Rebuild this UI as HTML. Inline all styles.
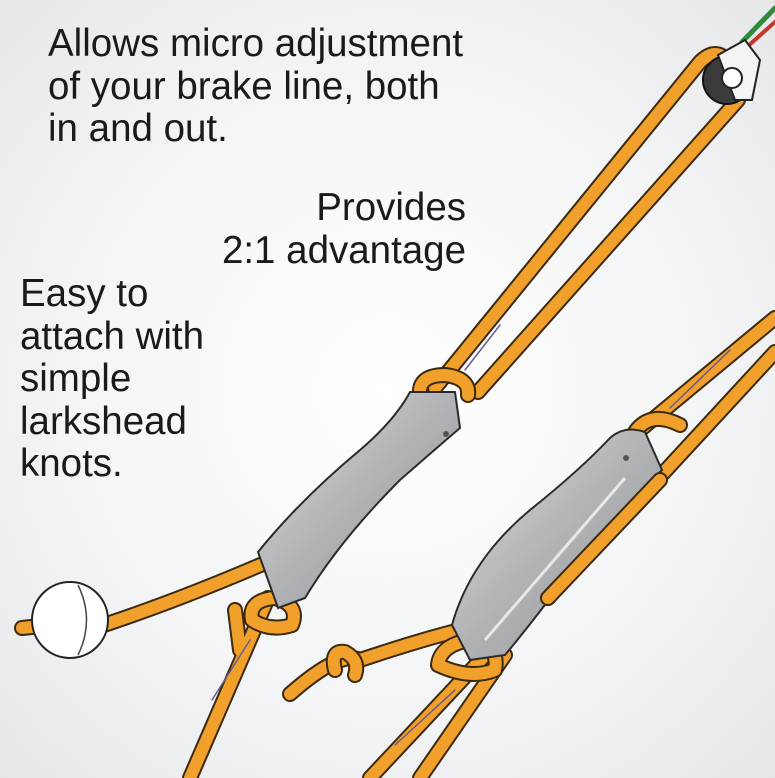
<!DOCTYPE html>
<html><head><style>
body{margin:0;width:775px;height:778px;overflow:hidden;background:radial-gradient(ellipse at 50% 50%,#ffffff 0%,#f3f4f5 60%,#e6e7e9 100%);font-family:"Liberation Sans",sans-serif;}
.t{position:absolute;font-size:38.5px;line-height:42.5px;color:#1a1a1a;}
svg{position:absolute;left:0;top:0}
</style></head><body>
<svg width="775" height="778" viewBox="0 0 775 778">
<defs>
<linearGradient id="g1" x1="0" y1="0" x2="1" y2="1"><stop offset="0" stop-color="#dcdddf"/><stop offset="0.5" stop-color="#b0b2b5"/><stop offset="1" stop-color="#8e9093"/></linearGradient>
</defs>
<g fill="none" stroke-linecap="round" stroke-linejoin="round">
<path d="M742,42 L775,8" stroke="#2f8a3c" stroke-width="5"/>
<path d="M748,46 L775,22" stroke="#c8352c" stroke-width="4"/>
<g stroke="#3a2a10" stroke-width="16">
<path d="M435,388 L700,62 Q712,50 722,56"/>
<path d="M478,392 L738,100"/>
<path d="M268,598 L190,778"/>
<path d="M235,610 L240,650"/>
<path d="M95,628 Q180,600 272,560"/>
<path d="M22,628 L50,625"/>
<path d="M640,430 L775,318"/>
<path d="M548,598 L775,352"/>
<path d="M490,650 L370,778"/>
<path d="M505,655 L420,778"/>
<path d="M290,694 Q340,650 360,660 Q420,640 460,630"/>
</g>
<g stroke="#f2a02c" stroke-width="12">
<path d="M435,388 L700,62 Q712,50 722,56"/>
<path d="M478,392 L738,100"/>
<path d="M268,598 L190,778"/>
<path d="M235,610 L240,650"/>
<path d="M95,628 Q180,600 272,560"/>
<path d="M22,628 L50,625"/>
<path d="M640,430 L775,318"/>
<path d="M548,598 L775,352"/>
<path d="M490,650 L370,778"/>
<path d="M505,655 L420,778"/>
<path d="M290,694 Q340,650 360,660 Q420,640 460,630"/>
</g>
<g stroke="#6a5a8a" stroke-width="1.5">
<path d="M465,370 L500,325"/><path d="M212,700 L250,640"/><path d="M670,408 L730,350"/><path d="M395,745 L455,690"/>
</g>
<g stroke="#3a2a10" stroke-width="16"><path d="M420,395 Q418,375 445,375 Q470,378 468,395"/><path d="M252,620 Q248,600 275,598 Q300,605 292,625 Q270,632 252,620"/><path d="M635,432 Q650,410 680,425"/><path d="M438,665 Q440,645 470,640 Q500,645 495,670 Q470,680 438,665"/><path d="M335,670 Q330,650 345,652 Q360,660 355,675"/></g>
<g stroke="#f2a02c" stroke-width="12"><path d="M420,395 Q418,375 445,375 Q470,378 468,395"/><path d="M252,620 Q248,600 275,598 Q300,605 292,625 Q270,632 252,620"/><path d="M635,432 Q650,410 680,425"/><path d="M438,665 Q440,645 470,640 Q500,645 495,670 Q470,680 438,665"/><path d="M335,670 Q330,650 345,652 Q360,660 355,675"/></g>
</g>
<circle cx="727" cy="80" r="24" fill="#3b3b3b" stroke="#111" stroke-width="2"/>
<path d="M718,55 L745,40 L760,60 L752,100 L735,100 Z" fill="#f4f4f4" stroke="#222" stroke-width="2"/>
<circle cx="732" cy="78" r="10" fill="#fff" stroke="#222" stroke-width="2"/>
<!-- left device -->
<path d="M410,392 L455,392 L460,428 Q440,445 400,480 Q340,540 305,598 L278,608 L258,552 Q300,500 360,450 Q395,420 410,392 Z" fill="url(#g1)" stroke="#2a2a2a" stroke-width="2"/>
<circle cx="446" cy="434" r="3" fill="#555"/>
<!-- right device -->
<path d="M610,438 Q625,425 645,432 L662,470 Q600,530 560,585 Q530,625 505,655 L470,660 L452,625 Q470,560 530,510 Q580,470 610,438 Z" fill="url(#g1)" stroke="#2a2a2a" stroke-width="2"/>
<path d="M625,478 L485,640" stroke="#e8e8e8" stroke-width="3" fill="none"/>
<circle cx="626" cy="458" r="3" fill="#555"/>
<path d="M548,598 L660,480" stroke="#3a2a10" stroke-width="16" stroke-linecap="round"/>
<path d="M548,598 L660,480" stroke="#f2a02c" stroke-width="12" stroke-linecap="round"/>
<circle cx="70" cy="620" r="38" fill="#fff" stroke="#222" stroke-width="2"/>
<path d="M78,585 Q95,620 78,655" fill="none" stroke="#444" stroke-width="1.5"/>
</svg>
<div class="t" style="left:48px;top:23px">Allows micro adjustment<br>of your brake line, both<br>in and out.</div>
<div class="t" style="right:309px;top:187px;text-align:right">Provides<br>2:1 advantage</div>
<div class="t" style="left:20px;top:273px">Easy to<br>attach with<br>simple<br>larkshead<br>knots.</div>
</body></html>
